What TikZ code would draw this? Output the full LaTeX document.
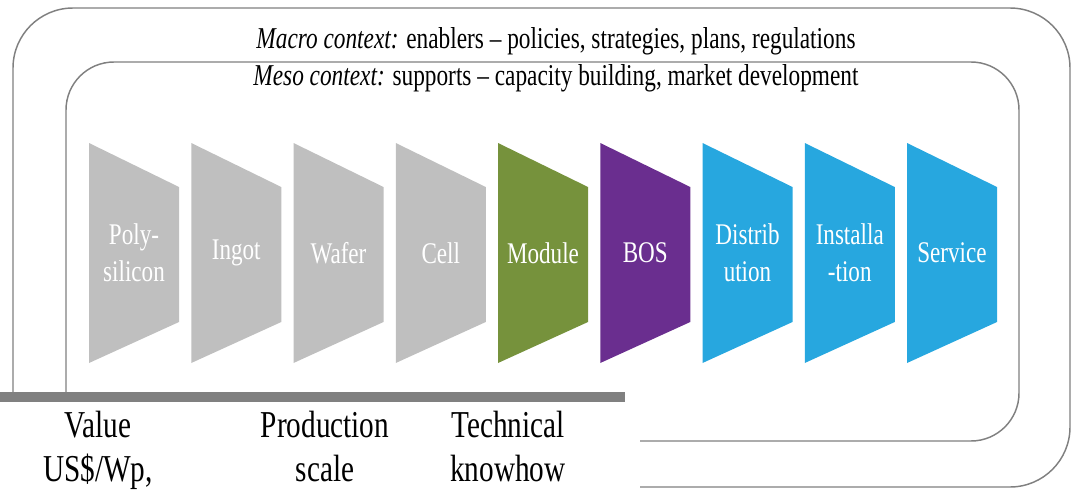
\documentclass[tikz,border=0pt]{standalone}
\usepackage{fontspec}
\setmainfont{Liberation Serif}[FakeStretch=0.77]
\definecolor{stagegray}{HTML}{BFBFBF}
\definecolor{stagegreen}{HTML}{76923C}
\definecolor{stagepurple}{HTML}{6A2E8F}
\definecolor{stageblue}{HTML}{27A7DF}
\definecolor{framegray}{HTML}{808080}
\begin{document}
\begin{tikzpicture}[x=0.75pt,y=-0.75pt,
  frame/.style={draw=framegray,line width=1.1pt},
  ctx/.style={inner sep=0pt,font=\fontsize{22.7}{27}\selectfont,text=black},
  stagelabel/.style={inner sep=0pt,align=center,text=white,font=\fontsize{22.5}{27.75}\selectfont},
  bottomtext/.style={inner sep=0pt,align=center,text=black,font=\fontsize{28.5}{33}\selectfont}]
\useasboundingbox (0,0) rectangle (1074,489);
\draw[frame,rounded corners=45pt] (13,8) rectangle (1070,487);
\draw[frame,rounded corners=36pt] (66,62) rectangle (1019,441);
\node[ctx,anchor=base] (macro) at (556,48) {\textit{Macro context:} enablers – policies, strategies, plans, regulations};
\node[ctx,anchor=base] (meso) at (556,85) {\textit{Meso context:} supports – capacity building, market development};
\foreach [count=\i] \txt/\col in {{Poly-\\silicon}/stagegray,Ingot/stagegray,Wafer/stagegray,Cell/stagegray,Module/stagegreen,BOS/stagepurple,{Distrib\\ution}/stageblue,{Installa\\-tion}/stageblue,Service/stageblue}{
  \pgfmathsetmacro\L{89+102.25*(\i-1)}
  \fill[\col] (\L,143) -- ++(90,44) -- ++(0,135) -- ++(-90,41) -- cycle;
  \node[stagelabel] (s\i) at (\L+45,253) {\txt};
}
\fill[white] (0,397) rectangle (640,489);
\fill[framegray] (0,392) rectangle (625,402);
\node[bottomtext,anchor=base] (value) at (98,481) {Value\\US\$/Wp,};
\node[bottomtext,anchor=base] (prod) at (325,481) {Production\\scale};
\node[bottomtext,anchor=base] (tech) at (508,481) {Technical\\knowhow};
\end{tikzpicture}
\end{document}
